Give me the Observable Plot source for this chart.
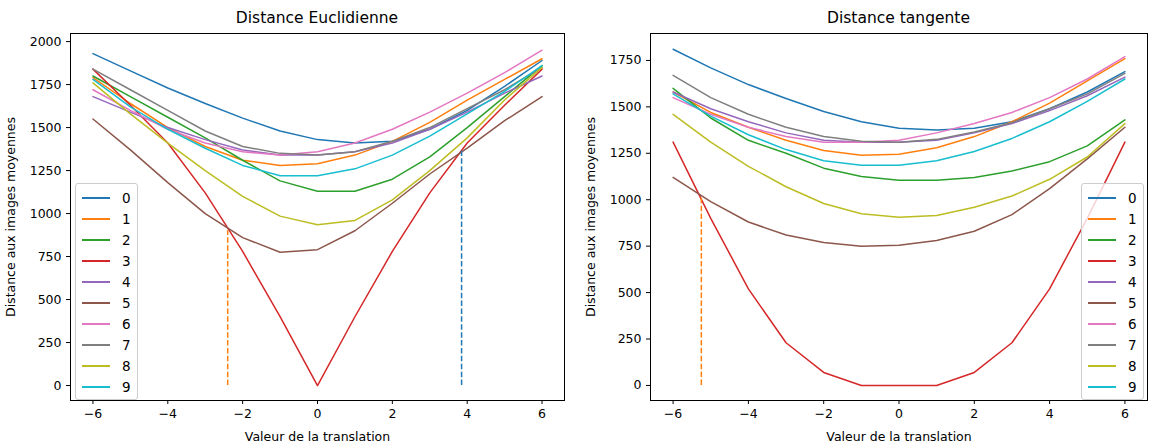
<!DOCTYPE html>
<html><head><meta charset="utf-8">
<script src="https://cdn.jsdelivr.net/npm/d3@7"></script>
<script src="https://cdn.jsdelivr.net/npm/@observablehq/plot@0.6"></script>
<style>
body{margin:0;background:#fff;font-family:"DejaVu Sans",sans-serif;}
#wrap{display:flex;width:1156px;}
.panel{position:relative;width:578px;}
.title{height:30px;line-height:36px;font-size:15.5px;}
.legend{position:absolute;border:1px solid #ccc;border-radius:3px;background:rgba(255,255,255,0.8);font-size:13.5px;padding:3px 6px 2px 6px;}
.legend div{display:flex;align-items:center;height:21px;}
.legend span.sw{display:inline-block;width:28px;height:2px;margin-right:12px;}
</style></head>
<body><div id="wrap"></div>
<script>
const shifts = d3.range(-6, 7);
const colors = ["#1f77b4","#ff7f0e","#2ca02c","#d62728","#9467bd","#8c564b","#e377c2","#7f7f7f","#bcbd22","#17becf"];
const eucl = [
  [1930,1830,1730,1640,1555,1480,1430,1410,1420,1490,1600,1740,1890],
  [1790,1640,1500,1390,1310,1280,1290,1340,1420,1530,1660,1780,1900],
  [1800,1680,1560,1440,1310,1190,1130,1130,1200,1330,1500,1680,1860],
  [1840,1630,1410,1120,780,400,0,400,780,1120,1410,1630,1840],
  [1680,1590,1500,1430,1370,1340,1340,1360,1410,1490,1590,1700,1800],
  [1550,1370,1180,1000,860,775,790,900,1060,1230,1380,1540,1680],
  [1720,1600,1490,1410,1360,1340,1360,1410,1490,1590,1700,1820,1950],
  [1840,1720,1600,1480,1390,1350,1340,1360,1420,1500,1610,1720,1850],
  [1760,1580,1410,1250,1100,985,935,960,1080,1250,1440,1660,1850],
  [1780,1620,1490,1380,1280,1220,1220,1260,1340,1450,1580,1710,1860]
];
const tang = [
  [1810,1710,1620,1545,1475,1420,1385,1375,1385,1420,1490,1580,1690],
  [1580,1470,1390,1320,1265,1240,1245,1280,1340,1420,1520,1640,1760],
  [1600,1440,1320,1250,1170,1125,1105,1105,1120,1155,1205,1290,1430],
  [1310,900,520,230,70,0,0,0,70,230,520,900,1310],
  [1580,1490,1420,1360,1320,1310,1310,1320,1360,1410,1480,1560,1660],
  [1120,990,880,810,770,750,755,780,830,920,1060,1220,1390],
  [1550,1460,1390,1340,1310,1310,1320,1360,1410,1470,1550,1650,1770],
  [1670,1550,1460,1390,1340,1315,1310,1325,1365,1415,1490,1570,1680],
  [1460,1310,1180,1070,980,925,905,915,960,1020,1110,1230,1410],
  [1570,1450,1350,1270,1210,1185,1185,1210,1260,1330,1420,1530,1650]
];
const euclMarkers = [{x:-2.4, y:900, c:1}, {x:3.85, y:1370, c:0}];
const tangMarkers = [{x:-5.25, y:1010, c:1}];

function rows(series){
  return series.flatMap((vals,k)=>vals.map((v,i)=>({x:shifts[i], y:v, k})));
}
function panel(title, series, markers, yDomain, margins, legendLeft){
  const p = document.createElement("div"); p.className="panel";
  p.innerHTML = `<div class="title" style="padding-left:${margins[0]}px;width:${578-margins[0]-margins[1]}px;text-align:center">${title}</div>`;
  const chart = Plot.plot({
    width:578, height:418,
    marginLeft:margins[0], marginRight:margins[1], marginTop:3, marginBottom:48,
    style:{fontFamily:"DejaVu Sans", fontSize:"12.5px", color:"#000"},
    x:{domain:[-6.6,6.6], ticks:d3.range(-6,7,2), tickFormat:d=>String(d).replace("-","\u2212"), label:"Valeur de la translation", labelAnchor:"center", labelArrow:"none", labelOffset:40, tickSize:4},
    y:{domain:yDomain, ticks:d3.range(0,yDomain[1],250), tickFormat:d3.format("d"), label:"Distance aux images moyennes", labelAnchor:"center", labelArrow:"none", labelOffset:64, tickSize:4},
    color:{domain:d3.range(10), range:colors},
    marks:[
      Plot.frame({stroke:"#000"}),
      Plot.line(rows(series), {x:"x", y:"y", z:"k", stroke:"k", strokeWidth:1.5}),
      Plot.ruleX(markers, {x:"x", y1:0, y2:"y", stroke:d=>colors[d.c], strokeWidth:1.5, strokeDasharray:"5.5,2.4"})
    ]
  });
  p.appendChild(chart);
  const lg = document.createElement("div"); lg.className="legend";
  lg.style.left = legendLeft+"px"; lg.style.top = "183px";
  lg.innerHTML = colors.map((c,i)=>`<div><span class="sw" style="background:${c}"></span>${i}</div>`).join("");
  p.appendChild(lg);
  return p;
}
const wrap = document.getElementById("wrap");
wrap.appendChild(panel("Distance Euclidienne", eucl, euclMarkers, [-87,2047], [70,14], 75));
wrap.appendChild(panel("Distance tangente", tang, tangMarkers, [-81,1895], [72,9], 503));
</script></body></html>
